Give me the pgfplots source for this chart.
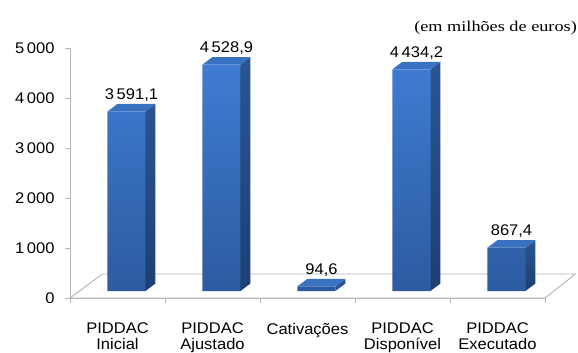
\documentclass[border=0pt]{standalone}
\usepackage{pgfplots}
\pgfplotsset{compat=1.18}
\usepackage{fontspec}
\setmainfont{Liberation Sans}[FakeStretch=1.07]
\newfontfamily\notefont{Liberation Serif}[FakeStretch=1.22]

\definecolor{frontTop}{HTML}{3F7CD2}
\definecolor{frontBot}{HTML}{2C5BA0}
\definecolor{sideTop}{HTML}{2A5590}
\definecolor{sideBot}{HTML}{1E3F72}
\definecolor{capCol}{HTML}{3A72C2}
\definecolor{lineGray}{HTML}{B4B4B4}

\newcommand{\lblfont}{\fontsize{15.5}{16}\selectfont}

\begin{document}
\begin{tikzpicture}
\begin{axis}[
  name=ax,
  scale only axis,
  width=475bp, height=250bp,
  xmin=-0.5, xmax=4.5,
  ymin=0, ymax=5000,
  clip=false,
  axis x line*=bottom,
  axis y line*=left,
  axis line style={draw=lineGray, line width=0.9bp},
  every tick/.style={draw=lineGray, line width=0.9bp},
  tick align=outside,
  major tick length=5bp,
  /pgf/number format/assume math mode=true,
  ytick={0,1000,2000,3000,4000,5000},
  yticklabel style={font=\lblfont, xshift=-7bp,
    /pgf/number format/.cd, 1000 sep={\,}},
  xtick={-0.5,0.5,1.5,2.5,3.5,4.5},
  xticklabels={},
  extra x ticks={0,1,2,3,4},
  extra x tick labels={{PIDDAC\\Inicial},{PIDDAC\\Ajustado},{Cativações},{PIDDAC\\Disponível},{PIDDAC\\Executado}},
  extra x tick style={major tick length=0pt,
    tick label style={align=center, font=\lblfont, anchor=north, inner sep=0pt, yshift=-25bp}},
]

% floor of the 3D plot area
\addplot[fill=white, draw=lineGray, line width=0.9bp, forget plot]
  coordinates {(-0.5,0) (-0.16,480) (4.82,480) (4.5,0)} -- cycle;

% right-hand side faces of the columns
\addplot[draw=none, top color=sideTop, bottom color=sideBot, xshift=9bp, yshift=7bp, forget plot]
  coordinates {(0.2,0) (0.305,150) (0.305,3741.1) (0.2,3591.1)} -- cycle;
\addplot[draw=none, top color=sideTop, bottom color=sideBot, xshift=9bp, yshift=7bp, forget plot]
  coordinates {(1.2,0) (1.305,150) (1.305,4678.9) (1.2,4528.9)} -- cycle;
\addplot[draw=none, fill=sideTop, xshift=9bp, yshift=7bp, forget plot]
  coordinates {(2.2,0) (2.305,150) (2.305,244.6) (2.2,94.6)} -- cycle;
\addplot[draw=none, top color=sideTop, bottom color=sideBot, xshift=9bp, yshift=7bp, forget plot]
  coordinates {(3.2,0) (3.305,150) (3.305,4584.2) (3.2,4434.2)} -- cycle;
\addplot[draw=none, top color=sideTop, bottom color=sideBot, xshift=9bp, yshift=7bp, forget plot]
  coordinates {(4.2,0) (4.305,150) (4.305,1017.4) (4.2,867.4)} -- cycle;

% top faces of the columns
\addplot[draw=none, fill=capCol, xshift=9bp, yshift=7bp, forget plot]
  coordinates {(-0.2,3591.1) (0.2,3591.1) (0.305,3741.1) (-0.095,3741.1)} -- cycle;
\addplot[draw=none, fill=capCol, xshift=9bp, yshift=7bp, forget plot]
  coordinates {(0.8,4528.9) (1.2,4528.9) (1.305,4678.9) (0.905,4678.9)} -- cycle;
\addplot[draw=none, fill=capCol, xshift=9bp, yshift=7bp, forget plot]
  coordinates {(1.8,94.6) (2.2,94.6) (2.305,244.6) (1.905,244.6)} -- cycle;
\addplot[draw=none, fill=capCol, xshift=9bp, yshift=7bp, forget plot]
  coordinates {(2.8,4434.2) (3.2,4434.2) (3.305,4584.2) (2.905,4584.2)} -- cycle;
\addplot[draw=none, fill=capCol, xshift=9bp, yshift=7bp, forget plot]
  coordinates {(3.8,867.4) (4.2,867.4) (4.305,1017.4) (3.905,1017.4)} -- cycle;

% front faces of the columns, with their values
\addplot[ybar, bar width=38bp, draw=none,
  top color=frontTop, bottom color=frontBot,
  xshift=9bp, yshift=7bp,
  nodes near coords,
  nodes near coords style={font=\lblfont, anchor=base, inner sep=0pt,
    xshift=5bp, yshift=12bp, text=black,
    /pgf/number format/.cd, fixed, fixed zerofill, precision=1,
    use comma, 1000 sep={\,}},
] coordinates {(0,3591.1) (1,4528.9) (2,94.6) (3,4434.2) (4,867.4)};

\end{axis}

\node[anchor=base east, inner sep=0pt, font=\notefont\fontsize{15}{17}\selectfont]
  at ([shift={(507bp,266bp)}]ax.south west) {(em milhões de euros)};

\pgfresetboundingbox
\path[use as bounding box] ([shift={(-70bp,-55bp)}]ax.south west)
  rectangle ([shift={(508bp,298bp)}]ax.south west);
\end{tikzpicture}
\end{document}
